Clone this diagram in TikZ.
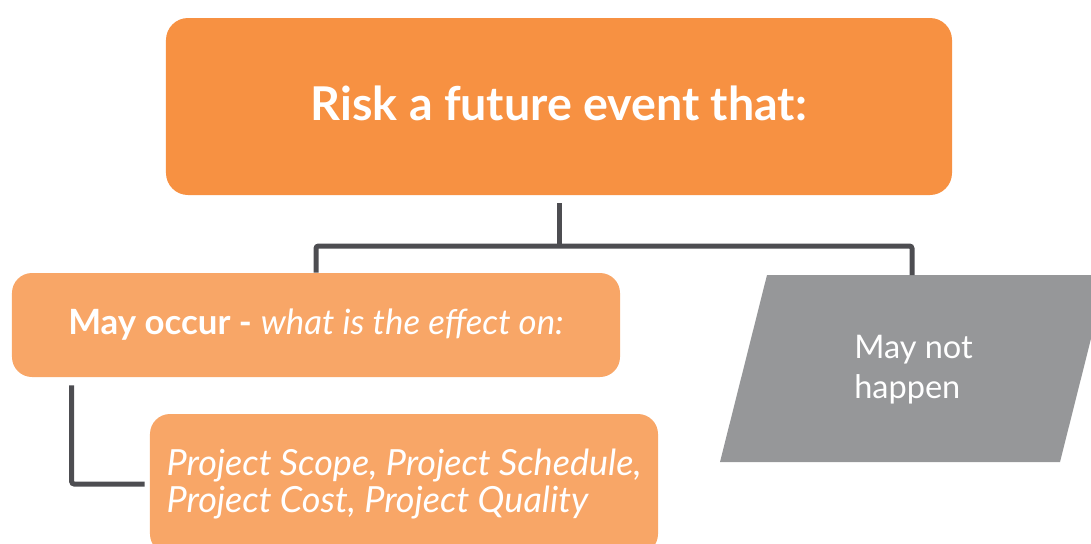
\documentclass[tikz,border=0pt]{standalone}
\usepackage{fontspec}
\setmainfont{Lato}
\usetikzlibrary{calc}
\definecolor{c0}{RGB}{247,145,66}
\definecolor{c1}{RGB}{248,166,103}
\definecolor{c2}{RGB}{150,151,153}
\definecolor{c3}{RGB}{77,77,81}
\tikzset{%
  box/.style={rectangle,rounded corners=#1,fill=c1,text=white,inner sep=0pt},
  box/.default=4mm,
  link/.style={c3,line width=1mm,rounded corners=0.5mm}
}

\begin{document}
\begin{tikzpicture}[x=0.2mm,y=-0.2mm]
  \useasboundingbox (0,0) rectangle (1091,543);
  \clip (0,0) rectangle (1091,543);
  %% boxes
  \node[box=4.4mm,fill=c0,minimum width=157.2mm,minimum height=35.4mm,
    font=\bfseries\fontsize{26.5}{30}\selectfont] (risk) at (559,106.5)
    {\raisebox{1.2mm}{Risk a future event that:}};
  \node[box,minimum width=121.6mm,minimum height=20.8mm,
    font=\fontsize{19.8}{24}\selectfont] (occur) at (316,325)
    {\textbf{May occur -} \textit{what is the effect on:}};
  \node[box,minimum width=101.6mm,minimum height=28mm,align=left,
    font=\itshape\fontsize{20.5}{21.6}\selectfont] (scope) at (404,484)
    {Project Scope, Project Schedule,\\Project Cost, Project Quality};
  %% not happening
  \coordinate (p0) at (767,275);
  \coordinate (p1) at (1107,275);
  \coordinate (p2) at (1060,462);
  \coordinate (p3) at (720,462);
  \fill[c2] (p0) -- (p1) -- (p2) -- (p3) -- cycle;
  \node[text=white,align=left,font=\fontsize{18.5}{22.8}\selectfont] (nothap) at (913.5,369.5) {May not\\happen};
  %% links
  \coordinate (hbar) at (0,246);
  \coordinate (nottop) at (912,275);
  \draw[link] ([yshift=-1.6mm]risk.south) -- (risk.south |- hbar);
  \draw[link] (occur.north) -- (occur.north |- hbar) -- (nottop |- hbar) -- (nottop);
  \draw[link] ($(occur.south west)+(60,8)$) |- ([xshift=-1mm]scope.west);
\end{tikzpicture}
\end{document}
